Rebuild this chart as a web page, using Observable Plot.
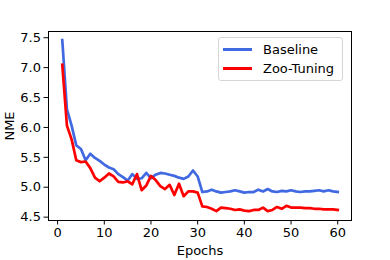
<!DOCTYPE html>
<html>
<head>
<meta charset="utf-8">
<script src="https://cdn.jsdelivr.net/npm/d3@7"></script>
<script src="https://cdn.jsdelivr.net/npm/@observablehq/plot@0.6"></script>
<style>
  html, body { margin: 0; padding: 0; background: #fff; }
  #chart { position: relative; width: 390px; height: 260px; font-family: "DejaVu Sans", sans-serif; }
  #legend { position: absolute; left: 218px; top: 37px; width: 125px; height: 44px;
    border: 1px solid #d6d6d6; border-radius: 3px; background: rgba(255,255,255,0.8); box-sizing: border-box; }
  .item { position: absolute; left: 4px; height: 16px; display: flex; align-items: center; font-size: 13px; color: #000; }
  .swatch { width: 29px; height: 3px; margin-right: 11px; }
</style>
</head>
<body>
<div id="chart"></div>
<script>
const seriesNames = ["Baseline", "Zoo-Tuning"];
const seriesColors = ["#4169e1", "#ff0000"];
const epochs = d3.range(1, 61);
const baseline = [7.46, 6.30, 6.03, 5.70, 5.64, 5.45, 5.56, 5.49, 5.44, 5.38,
  5.33, 5.30, 5.22, 5.17, 5.11, 5.22, 5.14, 5.15, 5.24, 5.15,
  5.21, 5.24, 5.23, 5.21, 5.19, 5.16, 5.14, 5.18, 5.28, 5.18,
  4.92, 4.93, 4.96, 4.93, 4.91, 4.92, 4.93, 4.95, 4.93, 4.91,
  4.92, 4.92, 4.96, 4.93, 4.97, 4.93, 4.92, 4.94, 4.93, 4.95,
  4.93, 4.92, 4.93, 4.93, 4.94, 4.95, 4.93, 4.95, 4.93, 4.92];
const zooTuning = [7.05, 6.03, 5.80, 5.45, 5.42, 5.43, 5.32, 5.16, 5.10, 5.16,
  5.23, 5.18, 5.09, 5.08, 5.10, 5.05, 5.22, 4.95, 5.03, 5.19,
  5.12, 5.02, 4.97, 5.04, 4.87, 5.06, 4.85, 4.93, 4.93, 4.91,
  4.68, 4.67, 4.64, 4.60, 4.66, 4.65, 4.64, 4.62, 4.63, 4.61,
  4.60, 4.62, 4.62, 4.66, 4.60, 4.62, 4.67, 4.64, 4.69, 4.66,
  4.66, 4.66, 4.65, 4.65, 4.64, 4.64, 4.63, 4.63, 4.63, 4.62];
const xTicks = [0, 10, 20, 30, 40, 50, 60];
const yTicks = [4.5, 5.0, 5.5, 6.0, 6.5, 7.0, 7.5];

const values = [baseline, zooTuning];
const data = [];
seriesNames.forEach((name, i) => {
  epochs.forEach((e, j) => data.push({series: name, epoch: e, nme: values[i][j]}));
});

const plot = Plot.plot({
  width: 390,
  height: 260,
  marginLeft: 48,
  marginRight: 39,
  marginTop: 31,
  marginBottom: 40,
  style: {fontFamily: "DejaVu Sans, sans-serif", fontSize: "13px", color: "#000", background: "#fff"},
  x: {domain: [-1.95, 62.95]},
  y: {domain: [4.444, 7.604]},
  color: {domain: seriesNames, range: seriesColors},
  marks: [
    Plot.line(data, {x: "epoch", y: "nme", stroke: "series", strokeWidth: 2.7, strokeLinejoin: "round", strokeLinecap: "square"}),
    Plot.frame({stroke: "#000", strokeWidth: 1}),
    Plot.axisX({ticks: xTicks, tickSize: 4.5, tickPadding: 3, label: "Epochs", labelAnchor: "center", labelArrow: "none", labelOffset: 34, fontSize: 13}),
    Plot.axisY({ticks: yTicks, tickSize: 4.5, tickPadding: 3, tickFormat: d3.format(".1f"), label: "NME", labelAnchor: "center", labelArrow: "none", labelOffset: 44, fontSize: 13})
  ]
});
const chart = document.getElementById("chart");
chart.appendChild(plot);

const legend = document.createElement("div");
legend.id = "legend";
seriesNames.forEach((name, i) => {
  const item = document.createElement("div");
  item.className = "item";
  item.style.top = (3 + i * 19.5) + "px";
  const sw = document.createElement("span");
  sw.className = "swatch";
  sw.style.background = seriesColors[i];
  const tx = document.createElement("span");
  tx.textContent = name;
  item.appendChild(sw);
  item.appendChild(tx);
  legend.appendChild(item);
});
chart.appendChild(legend);
</script>
</body>
</html>
